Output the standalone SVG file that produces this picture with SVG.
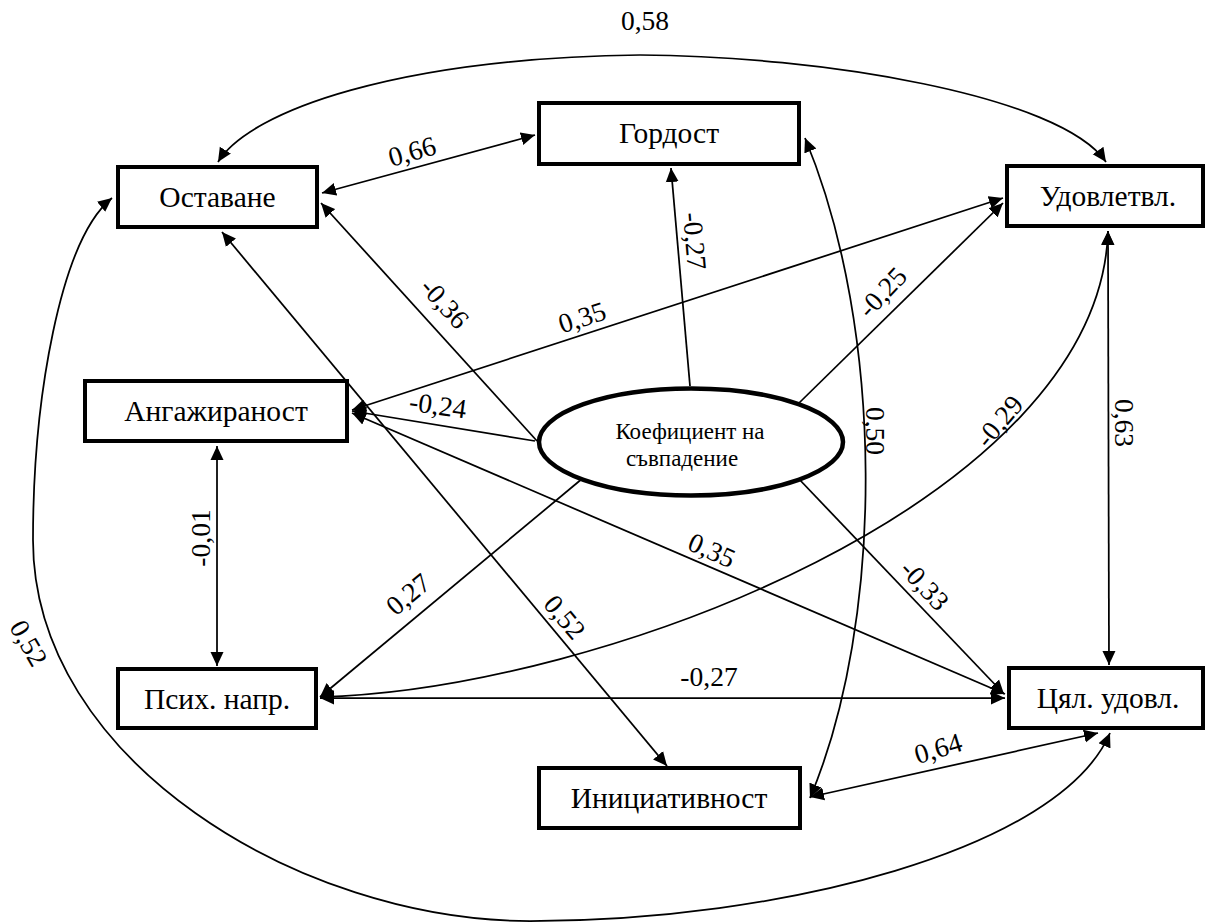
<svg xmlns="http://www.w3.org/2000/svg" width="1205" height="924" viewBox="0 0 1205 924">
<style>
.n rect{fill:#fff;stroke:#000;stroke-width:4}
.n ellipse{fill:#fff;stroke:#000;stroke-width:4.5}
.t{font-family:"Liberation Serif","Times New Roman",serif;font-size:29.5px;fill:#000;text-anchor:middle}
.e{font-family:"Liberation Serif","Times New Roman",serif;font-size:23px;fill:#000;text-anchor:middle}
.l{font-family:"Liberation Serif","Times New Roman",serif;font-size:27.5px;fill:#000;text-anchor:middle}
.c path,.c line{fill:none;stroke:#000;stroke-width:1.75}
.b{marker-start:url(#a);marker-end:url(#a)}
.s{marker-end:url(#a)}
</style>
<defs>
<marker id="a" viewBox="0 0 14 14" refX="14" refY="7" markerWidth="14" markerHeight="14" markerUnits="userSpaceOnUse" orient="auto-start-reverse"><path d="M0,0.5 L14,7 L0,13.5 z" fill="#000"/></marker>
</defs>
<rect width="1205" height="924" fill="#fff"/>
<g id="connectors" class="c">
<path class="b" d="M218,162 C250,110 400,58 640,55 C820,56 1060,95 1106,162"/>
<line class="b" x1="322" y1="193" x2="535" y2="135"/>
<line class="s" x1="537" y1="441" x2="321" y2="203"/>
<line class="s" x1="690" y1="386" x2="671" y2="168"/>
<line class="s" x1="797" y1="405" x2="1003" y2="203"/>
<line class="b" x1="352" y1="410" x2="1003" y2="198"/>
<line class="s" x1="535" y1="441" x2="352" y2="411"/>
<line class="b" x1="352" y1="413" x2="1005" y2="694"/>
<line class="b" x1="222" y1="232" x2="667" y2="766"/>
<line class="s" x1="583" y1="478" x2="320" y2="697"/>
<line class="s" x1="798" y1="478" x2="1004" y2="694"/>
<line class="b" x1="320" y1="698" x2="1005" y2="698"/>
<path class="b" d="M320,697 C600,690 1100,500 1108,231"/>
<path class="b" d="M805,138 C885,330 885,620 810,798"/>
<line class="b" x1="1108" y1="231" x2="1109" y2="665"/>
<line class="b" x1="810" y1="797" x2="1098" y2="733"/>
<path class="b" d="M112,198 C60,240 33,400 33,540 C33,760 300,921 530,921 C780,921 1060,850 1110,733"/>
<line class="b" x1="217" y1="446" x2="217" y2="666"/>
</g>
<g id="labels">
<text class="l" x="645" y="30">0,58</text>
<text class="l" transform="translate(412,151) rotate(-16)" dy="0.35em">0,66</text>
<text class="l" transform="translate(445,303) rotate(48)" dy="0.35em">-0,36</text>
<text class="l" transform="translate(582,317) rotate(-18)" dy="0.35em">0,35</text>
<text class="l" transform="translate(438,405) rotate(8)" dy="0.35em">-0,24</text>
<text class="l" transform="translate(695,241) rotate(85)" dy="0.35em">-0,27</text>
<text class="l" transform="translate(882,292) rotate(-47)" dy="0.35em">-0,25</text>
<text class="l" transform="translate(876,431) rotate(90)" dy="0.35em">0,50</text>
<text class="l" transform="translate(999,421) rotate(-50)" dy="0.35em">-0,29</text>
<text class="l" transform="translate(1125,423) rotate(90)" dy="0.35em">0,63</text>
<text class="l" transform="translate(200,538) rotate(-90)" dy="0.35em">-0,01</text>
<text class="l" transform="translate(408,594) rotate(-40)" dy="0.35em">0,27</text>
<text class="l" transform="translate(565,617) rotate(50)" dy="0.35em">0,52</text>
<text class="l" transform="translate(712,550) rotate(24)" dy="0.35em">0,35</text>
<text class="l" transform="translate(925,585) rotate(47)" dy="0.35em">-0,33</text>
<text class="l" transform="translate(709,676)" dy="0.35em">-0,27</text>
<text class="l" transform="translate(938,748) rotate(-17)" dy="0.35em">0,64</text>
<text class="l" transform="translate(29,643) rotate(60)" dy="0.35em">0,52</text>
</g>
<g id="n-ostavane" class="n"><rect x="118" y="167" width="199" height="60"/><text class="t" x="217.5" y="207">Оставане</text></g>
<g id="n-gordost" class="n"><rect x="539" y="103" width="260" height="61"/><text class="t" x="669" y="143">Гордост</text></g>
<g id="n-udovl" class="n"><rect x="1007" y="166" width="196" height="60"/><text class="t" x="1108" y="206">Удовлетвл.</text></g>
<g id="n-angaj" class="n"><rect x="85" y="381" width="262" height="60"/><text class="t" x="216" y="421">Ангажираност</text></g>
<g id="n-koef" class="n"><ellipse cx="691" cy="442" rx="152" ry="53.5"/><text class="e" x="690" y="439">Коефициент на</text><text class="e" x="682" y="466">съвпадение</text></g>
<g id="n-psih" class="n"><rect x="118" y="669" width="198" height="59"/><text class="t" x="217" y="709">Псих. напр.</text></g>
<g id="n-cial" class="n"><rect x="1009" y="668" width="194" height="60"/><text class="t" x="1108" y="708">Цял. удовл.</text></g>
<g id="n-inic" class="n"><rect x="539" y="768" width="261" height="60"/><text class="t" x="669" y="808">Инициативност</text></g>
</svg>
